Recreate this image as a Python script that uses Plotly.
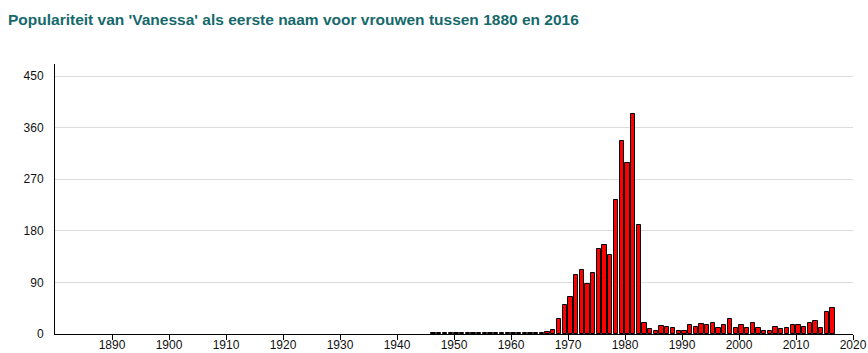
import plotly.graph_objects as go

years = list(range(1946, 2017))
counts = [1] * 19 + [2,
          3, 7, 27, 50, 64, 103, 111, 87, 106, 149, 156, 137, 234, 336, 299, 383, 190,
          19, 8, 5, 14, 12, 10, 6, 5, 15, 13, 17, 15, 19, 10, 15, 27, 10,
          15, 10, 20, 10, 6, 6, 12, 8, 10, 15, 15, 12, 20, 22, 10, 38, 46]

x_ticks = list(range(1890, 2021, 10))
y_ticks = [0, 90, 180, 270, 360, 450]
title_text = "Populariteit van 'Vanessa' als eerste naam voor vrouwen tussen 1880 en 2016"

fig = go.Figure()
fig.add_trace(go.Bar(
    x=years, y=counts,
    width=0.75, offset=0.05,
    marker=dict(color="#ff0000", line=dict(color="#000000", width=1)),
    hoverinfo="x+y",
))

fig.update_layout(
    width=868, height=353,
    margin=dict(l=55, r=15, t=64, b=19),
    paper_bgcolor="white", plot_bgcolor="white",
    showlegend=False,
    font=dict(family="Liberation Sans, Arial, sans-serif", size=12, color="#111"),
    title=dict(text="<b>" + title_text + "</b>", xref="container", yref="container",
               x=8 / 868, xanchor="left", y=1 - 20 / 353, yanchor="middle",
               font=dict(family="Liberation Sans, Arial, sans-serif", size=15.5, color="#16696b"),
               automargin=False),
    bargap=0,
)
fig.update_xaxes(
    range=[1880, 2020], tickvals=x_ticks, ticktext=[str(t) for t in x_ticks],
    showline=True, linecolor="black", linewidth=1,
    ticks="outside", ticklen=5, tickcolor="black", tickwidth=1,
    ticklabelstandoff=-5,
    showgrid=False, zeroline=False, tickfont=dict(size=12, color="#111"),
    automargin=False,
)
fig.update_yaxes(
    range=[0, 471], tickvals=y_ticks,
    showline=True, linecolor="black", linewidth=1,
    showgrid=True, gridcolor="#dddddd", gridwidth=1,
    zeroline=False, ticks="", ticklabelstandoff=8,
    tickfont=dict(size=12, color="#111"),
    automargin=False,
)

fig.write_html("out.html")
